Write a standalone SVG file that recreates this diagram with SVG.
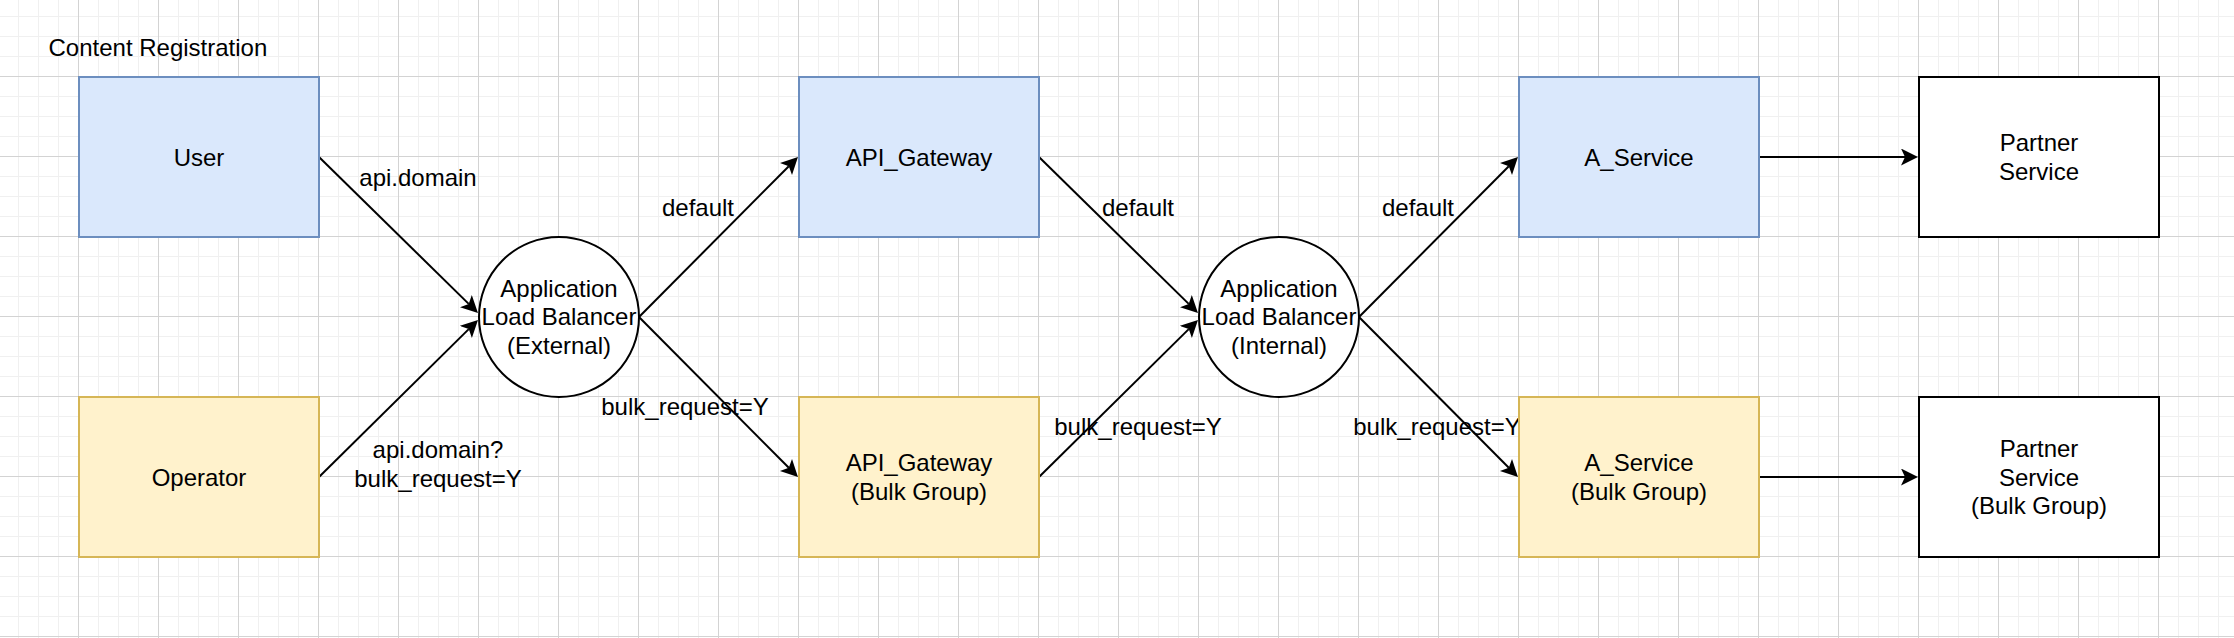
<svg xmlns="http://www.w3.org/2000/svg" width="2234" height="638" viewBox="0 0 2234 638">
  <style>
    text { font-family: "Liberation Sans", Arial, Helvetica, sans-serif; font-size: 24px; fill: #000000; }
    .mid { text-anchor: middle; }
    .blue { fill: #dae8fc; stroke: #6c8ebf; stroke-width: 2; }
    .yellow { fill: #fff2cc; stroke: #d6b656; stroke-width: 2; }
    .plain { fill: #ffffff; stroke: #000000; stroke-width: 2; }
    .edge { fill: none; stroke: #000000; stroke-width: 2; marker-end: url(#arrow); }
  </style>
  <defs>
    <pattern id="gridMinor" x="78" y="76" width="20" height="20" patternUnits="userSpaceOnUse">
      <rect x="0" y="0" width="1" height="20" fill="#f0f0f0"/>
      <rect x="0" y="0" width="20" height="1" fill="#f0f0f0"/>
    </pattern>
    <pattern id="gridMajor" x="78" y="76" width="80" height="80" patternUnits="userSpaceOnUse">
      <rect x="0" y="0" width="1" height="80" fill="#d3d3d3"/>
      <rect x="0" y="0" width="80" height="1" fill="#d3d3d3"/>
    </pattern>
    <marker id="arrow" markerWidth="18" markerHeight="18" refX="4" refY="8.5" orient="auto" markerUnits="userSpaceOnUse">
      <path d="M0,0 L17,8.5 L0,17 L4,8.5 Z" fill="#000000"/>
    </marker>
  </defs>

  <g id="background">
    <rect x="0" y="0" width="2234" height="638" fill="#ffffff"/>
    <rect x="0" y="0" width="2234" height="638" fill="url(#gridMinor)"/>
    <rect x="0" y="0" width="2234" height="638" fill="url(#gridMajor)"/>
  </g>

  <g id="title">
    <text x="48.5" y="56">Content Registration</text>
  </g>

  <g id="connectors">
    <path class="edge" d="M319,157 L468.7,303.9"/>
    <path class="edge" d="M319,477 L468.75,329.1"/>
    <path class="edge" d="M639,317 L788.8,166.2"/>
    <path class="edge" d="M639,317 L788.8,467.8"/>
    <path class="edge" d="M1039,157 L1188.7,303.9"/>
    <path class="edge" d="M1039,477 L1188.75,329.1"/>
    <path class="edge" d="M1359,317 L1508.8,166.2"/>
    <path class="edge" d="M1359,317 L1508.8,467.8"/>
    <path class="edge" d="M1759,157 L1905,157"/>
    <path class="edge" d="M1759,477 L1905,477"/>
    <g id="edge-labels">
      <text class="mid" x="418" y="185.5">api.domain</text>
      <text class="mid" x="438" y="458.3">api.domain?</text>
      <text class="mid" x="438" y="487">bulk_request=Y</text>
      <text class="mid" x="698" y="215.5">default</text>
      <text class="mid" x="685" y="414.5">bulk_request=Y</text>
      <text class="mid" x="1138" y="215.5">default</text>
      <text class="mid" x="1138" y="434.5">bulk_request=Y</text>
      <text class="mid" x="1418" y="215.5">default</text>
      <text class="mid" x="1437" y="434.5">bulk_request=Y</text>
    </g>
  </g>

  <g id="user">
    <rect class="blue" x="79" y="77" width="240" height="160"/>
    <text class="mid" x="199" y="165.5">User</text>
  </g>
  <g id="operator">
    <rect class="yellow" x="79" y="397" width="240" height="160"/>
    <text class="mid" x="199" y="485.5">Operator</text>
  </g>
  <g id="alb-external">
    <ellipse class="plain" cx="559" cy="317" rx="80" ry="80"/>
    <text class="mid" x="559" y="296.5">Application</text>
    <text class="mid" x="559" y="325.3">Load Balancer</text>
    <text class="mid" x="559" y="354.1">(External)</text>
  </g>
  <g id="api-gateway">
    <rect class="blue" x="799" y="77" width="240" height="160"/>
    <text class="mid" x="919" y="165.5">API_Gateway</text>
  </g>
  <g id="api-gateway-bulk">
    <rect class="yellow" x="799" y="397" width="240" height="160"/>
    <text class="mid" x="919" y="471.1">API_Gateway</text>
    <text class="mid" x="919" y="499.9">(Bulk Group)</text>
  </g>
  <g id="alb-internal">
    <ellipse class="plain" cx="1279" cy="317" rx="80" ry="80"/>
    <text class="mid" x="1279" y="296.5">Application</text>
    <text class="mid" x="1279" y="325.3">Load Balancer</text>
    <text class="mid" x="1279" y="354.1">(Internal)</text>
  </g>
  <g id="a-service">
    <rect class="blue" x="1519" y="77" width="240" height="160"/>
    <text class="mid" x="1639" y="165.5">A_Service</text>
  </g>
  <g id="a-service-bulk">
    <rect class="yellow" x="1519" y="397" width="240" height="160"/>
    <text class="mid" x="1639" y="471.1">A_Service</text>
    <text class="mid" x="1639" y="499.9">(Bulk Group)</text>
  </g>
  <g id="partner-service">
    <rect class="plain" x="1919" y="77" width="240" height="160"/>
    <text class="mid" x="2039" y="151.1">Partner</text>
    <text class="mid" x="2039" y="179.9">Service</text>
  </g>
  <g id="partner-service-bulk">
    <rect class="plain" x="1919" y="397" width="240" height="160"/>
    <text class="mid" x="2039" y="456.7">Partner</text>
    <text class="mid" x="2039" y="485.5">Service</text>
    <text class="mid" x="2039" y="514.3">(Bulk Group)</text>
  </g>
</svg>
